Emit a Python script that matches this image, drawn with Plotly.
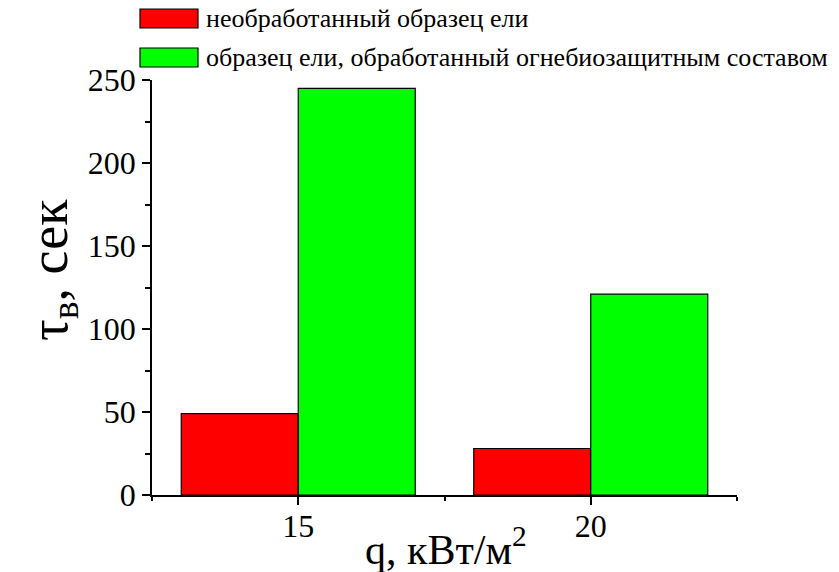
import plotly.graph_objects as go

# ---- data ----
q_values = [15, 20]
untreated = [49, 28]
treated = [245, 121]
series_names = ["необработанный образец ели",
                "образец ели, обработанный огнебиозащитным составом"]
series_colors = ["#FF0000", "#00FF00"]
y_ticks = [0, 50, 100, 150, 200, 250]
x_title = "q, кВт/м<sup>2</sup>"
y_title = "τ<sub>в</sub>, сек"

W, H = 839, 572
ML, MR, MT, MB = 152, 102, 80, 77
PW, PH = W - ML - MR, H - MT - MB
FONT = "Times New Roman"


def px(x):
    return (x - ML) / PW


def py(y):
    return (H - MB - y) / PH


fig = go.Figure()
fig.add_trace(go.Bar(x=q_values, y=untreated, name=series_names[0],
                     offset=-2, width=2,
                     marker=dict(color=series_colors[0], line=dict(color="black", width=1.2))))
fig.add_trace(go.Bar(x=q_values, y=treated, name=series_names[1],
                     offset=0, width=2,
                     marker=dict(color=series_colors[1], line=dict(color="black", width=1.2))))

shapes = []
annotations = []
# custom legend
legend_rows = [(9, 28), (48, 67)]
for (y0, y1), name, col in zip(legend_rows, series_names, series_colors):
    shapes.append(dict(type="rect", xref="paper", yref="paper",
                       x0=px(140), x1=px(198), y0=py(y1), y1=py(y0),
                       fillcolor=col, line=dict(color="black", width=1.2)))
    annotations.append(dict(xref="paper", yref="paper", x=px(204), y=py((y0 + y1) / 2),
                            xanchor="left", yanchor="middle", text=name, showarrow=False,
                            font=dict(family=FONT, size=26, color="black")))

annotations.append(dict(xref="paper", yref="paper", x=px(446), y=py(546),
                        xanchor="center", yanchor="middle", text=x_title, showarrow=False,
                        font=dict(family=FONT, size=42, color="black")))
annotations.append(dict(xref="paper", yref="paper", x=px(52), y=py(270),
                        xanchor="center", yanchor="middle", text=y_title, showarrow=False,
                        textangle=-90, font=dict(family=FONT, size=54, color="black")))

fig.update_layout(
    width=W, height=H,
    margin=dict(l=ML, r=MR, t=MT, b=MB),
    paper_bgcolor="white", plot_bgcolor="white",
    barmode="overlay", showlegend=False,
    shapes=shapes, annotations=annotations,
    font=dict(family=FONT, color="black"),
    xaxis=dict(range=[12.5, 22.5], tickvals=q_values, ticks="outside", ticklen=8,
               tickwidth=1.5, tickcolor="black", showline=True, linecolor="black",
               linewidth=1.5, showgrid=False, zeroline=False, ticklabelstandoff=-6,
               tickfont=dict(family=FONT, size=32, color="black"),
               minor=dict(dtick=2.5, tick0=0, ticks="outside", ticklen=4,
                          tickwidth=1.5, tickcolor="black", showgrid=False)),
    yaxis=dict(range=[0, 250], tickvals=y_ticks, ticks="outside", ticklen=8,
               tickwidth=1.5, tickcolor="black", showline=True, linecolor="black",
               linewidth=1.5, showgrid=False, zeroline=False,
               tickfont=dict(family=FONT, size=32, color="black"),
               minor=dict(dtick=25, tick0=0, ticks="outside", ticklen=5,
                          tickwidth=1.5, tickcolor="black", showgrid=False)),
)

fig.write_html("out.html")
